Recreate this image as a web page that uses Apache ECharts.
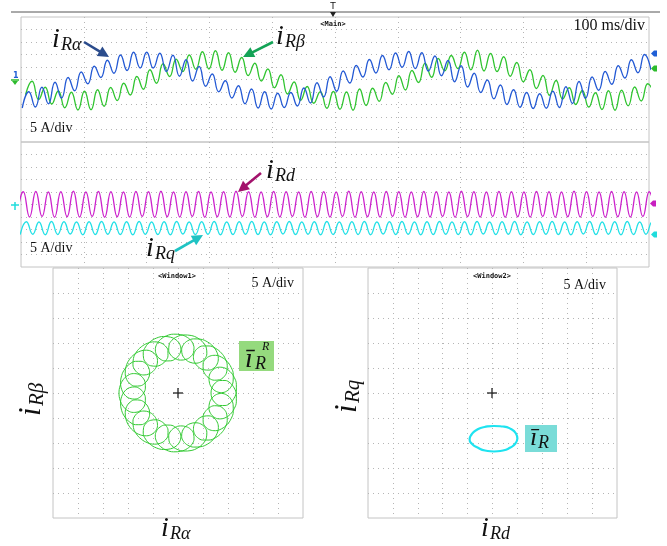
<!DOCTYPE html>
<html><head><meta charset="utf-8">
<script src="https://cdn.jsdelivr.net/npm/echarts@6/dist/echarts.min.js"></script>
<style>html,body{margin:0;padding:0;background:#fff}#c{width:667px;height:546px}</style>
</head><body><div id="c"></div>
<script>
// ---- time-domain traces: successive ripple extremes (A) ----
const timeBaseMs = [0, 1000];            // 100 ms/div, 10 divisions
const blueStartMs = 2.0,  blueStepMs = 10.43;
const greenStartMs = 7.2, greenStepMs = 10.43;
const dqStartMs = -6.3,   cyanStartMs = -1.3, dqStepMs = 9.965;

const iRalpha = [-11.0,-4.5,-10.6,-2.7,-9.3,-0.7,-7.0,1.2,-4.1,3.4,-1.3,5.7,1.2,8.1,2.9,10.2,4.0,11.3,5.0,11.3,
  5.0,10.9,3.6,10.1,1.7,8.3,-0.2,5.6,-2.3,2.6,-4.5,-0.1,-7.0,-2.1,-9.3,-3.4,-11.0,-4.5,-11.4,-5.1,
  -10.8,-4.8,-10.2,-3.0,-9.0,-0.9,-6.6,1.5,-4.3,3.8,-1.0,6.0,1.4,8.4,3.0,10.0,4.3,11.0,5.3,11.6,
  4.8,11.1,3.8,9.8,1.9,8.0,-0.5,5.9,-2.6,2.9,-4.8,0.2,-7.3,-1.8,-9.6,-3.7,-10.7,-4.8,-11.2,-5.3,
  -11.1,-4.3,-10.8,-2.5,-9.2,-0.4,-7.1,1.4,-3.9,3.6,-1.5,5.9,1.0,8.3,3.1,10.4,4.2];
const iRbeta = [-5.7,-0.3,-7.6,-2.7,-9.4,-4.2,-10.9,-4.7,-11.8,-4.3,-11.7,-3.7,-10.3,-2.8,-8.0,-1.1,-5.8,1.6,-3.5,4.3,
  -1.1,6.7,1.6,8.5,3.6,10.2,4.5,11.5,4.6,11.9,4.1,11.1,3.3,9.2,2.0,6.9,-0.2,4.6,-2.9,2.3,
  -5.4,-0.6,-7.9,-2.4,-9.1,-4.5,-11.1,-4.4,-11.5,-4.6,-11.9,-3.4,-10.0,-3.1,-8.3,-0.8,-5.5,1.9,-3.8,4.0,
  -0.8,6.9,1.3,8.8,3.9,10.0,4.8,11.3,4.3,12.1,3.8,10.8,3.6,9.5,1.7,7.2,-0.5,4.3,-3.2,2.0,
  -5.9,0.0,-7.4,-2.9,-9.6,-4.0,-10.6,-4.9,-11.6,-4.1,-11.9,-3.9,-10.1,-2.6,-8.2,-1.3,-5.6];
const iRd = [-4.9,5.1,-5.0,5.2,-4.8,5.0,-5.1,5.1,-4.9,5.3,-5.0,5.0,-4.8,5.2,-5.1,5.1,-4.9,5.0,-5.0,5.2,
  -4.8,5.1,-5.1,5.3,-4.9,5.0,-5.0,5.1,-4.8,5.2,-5.1,5.0,-4.9,5.1,-5.0,5.3,-4.8,5.1,-5.1,5.0,
  -4.9,5.2,-5.0,5.1,-4.8,5.0,-5.1,5.2,-4.9,5.1,-5.0,5.0,-4.8,5.3,-5.1,5.1,-4.9,5.0,-5.0,5.2,
  -4.8,5.1,-5.1,5.0,-4.9,5.2,-5.0,5.1,-4.8,5.0,-5.1,5.3,-4.9,5.1,-5.0,5.0,-4.8,5.2,-5.1,5.1,
  -4.9,5.0,-5.0,5.2,-4.8,5.1,-5.1,5.0,-4.9,5.3,-5.0,5.1,-4.8,5.0,-5.1,5.2,-4.9,5.1,-5.0,5.0,
  -4.8,5.1,-5.0];
const iRq = [-12.0,-6.9,-11.9,-7.0,-12.1,-6.8,-12.0,-6.9,-11.8,-7.0,-12.1,-6.9,-12.0,-6.8,-11.9,-7.0,-12.0,-6.9,-12.1,-6.8,
  -11.9,-7.0,-12.0,-6.9,-12.1,-6.8,-11.8,-7.0,-12.0,-6.9,-11.9,-6.8,-12.1,-7.0,-12.0,-6.9,-11.9,-6.8,-12.0,-7.0,
  -12.1,-6.9,-11.8,-6.8,-12.0,-7.0,-11.9,-6.9,-12.1,-6.8,-12.0,-7.0,-11.9,-6.9,-12.0,-6.8,-12.1,-7.0,-11.8,-6.9,
  -12.0,-6.8,-11.9,-7.0,-12.1,-6.9,-12.0,-6.8,-11.9,-7.0,-12.0,-6.9,-12.1,-6.8,-11.8,-7.0,-12.0,-6.9,-11.9,-6.8,
  -12.1,-7.0,-12.0,-6.9,-11.9,-6.8,-12.0,-7.0,-12.1,-6.9,-11.8,-6.8,-12.0,-7.0,-11.9,-6.9,-12.1,-6.8,-12.0,-7.0,
  -11.9,-6.9,-12.0];

// ---- XY window 1 (alpha-beta ring): one ripple loop read as radius (A) / angle (deg) ----
const loopStartAngles = [0,17.1,34.3,51.4,68.6,85.7,102.9,120,137.1,154.3,171.4,188.6,205.7,222.9,240,257.1,274.3,291.4,308.6,325.7,342.9];
const loopRadius = [9.74,8.72,7.70,6.91,6.6,6.91,7.70,8.72,9.74,10.62,11.27,11.67,11.8,11.67,11.27,10.62];
const loopAngle  = [19.2,20.9,19.2,13.4,4.3,-4.8,-10.7,-12.3,-10.6,-6.6,-0.9,5.8,12.9,19.9,26.6,32.3];

// ---- XY window 2 (d-q ellipse), A ----
const ellipseD = [5.0,4.7,3.7,2.1,0.3,-1.6,-3.2,-4.2,-4.6,-4.1,-3.0,-1.5,0.3,2.1,3.6,4.6];
const ellipseQ = [-9.1,-8.1,-7.2,-6.7,-6.6,-6.8,-7.4,-8.3,-9.3,-10.2,-10.9,-11.5,-11.7,-11.5,-10.9,-10.1];

const xyRange = [-25, 25];   // 5 A/div, 10 div
const labels = {alpha:'Rα', beta:'Rβ', d:'Rd', q:'Rq'};

// ---------- build ----------
function seq(t0, step, vals){ return vals.map((v,i)=>[t0+step*i, v]); }
const ringData = [];
loopStartAngles.forEach(a0 => loopRadius.forEach((r,s) => ringData.push([r, a0 + loopAngle[s]])));
ringData.push([loopRadius[0], 360 + loopAngle[0]]);
const ellipseData = ellipseD.map((d,i)=>[d, ellipseQ[i]]);
ellipseData.push([ellipseD[0], ellipseQ[0]]);

const dotLine = {show:true, showMinLine:false, showMaxLine:false, lineStyle:{color:'#b5b5b5', type:[1,4], width:1}};
const hid = {axisLine:{show:false}, axisTick:{show:false}, axisLabel:{show:false}};
function vx(grid, min, max, interval){ return Object.assign({type:'value', gridIndex:grid, min:min, max:max, interval:interval, splitLine:dotLine}, hid); }
function vy(grid, min, max, interval, split){ return Object.assign({type:'value', gridIndex:grid, min:min, max:max, interval:interval, splitLine: split?dotLine:{show:false}}, hid); }

const SERIF = '"Liberation Serif", "Times New Roman", serif';
const g = [];
function txt(x, y, s, size, opt){ opt=opt||{}; g.push({type:'text', x:x, y:y, rotation:opt.rot||0, z:50, style:{text:s, font:(opt.style||'')+' '+size+'px '+(opt.family||SERIF), fill:opt.fill||'#111', align:opt.align||'left', verticalAlign:opt.va||'middle'}}); }
function isub(bx, by, sub){
  txt(bx, by - 28*0.3, 'i', 28, {style:'italic'});
  txt(bx + 9, by + 3 - 18*0.3, sub, 18, {style:'italic'});
}
function arrow(x1,y1,x2,y2,color){
  const dx=x2-x1, dy=y2-y1, L=Math.hypot(dx,dy), ux=dx/L, uy=dy/L, nx=-uy, ny=ux, hl=11, hw=5.5;
  g.push({type:'line', z:40, shape:{x1:x1,y1:y1,x2:x2-ux*hl*0.7,y2:y2-uy*hl*0.7}, style:{stroke:color, lineWidth:2.6}});
  g.push({type:'polygon', z:40, shape:{points:[[x2,y2],[x2-ux*hl+nx*hw, y2-uy*hl+ny*hw],[x2-ux*hl-nx*hw, y2-uy*hl-ny*hw]]}, style:{fill:color}});
}
function tag(x,y,color){ g.push({type:'polygon', z:40, shape:{points:[[x,y],[x+3,y-3],[x+6,y-3],[x+6,y+3],[x+3,y+3]]}, style:{fill:color}}); }

// top frame line and trigger mark
g.push({type:'line', shape:{x1:11,y1:12,x2:660,y2:12}, style:{stroke:'#555', lineWidth:1}});
txt(333, 7, 'T', 9, {align:'center', family:'"DejaVu Sans", sans-serif'});
g.push({type:'polygon', shape:{points:[[330,12],[336,12],[333,17]]}, style:{fill:'#222'}});
txt(333, 24.5, '<Main>', 7, {align:'center', style:'bold', family:'"DejaVu Sans Mono", monospace'});
txt(645, 26, '100 ms/div', 16, {align:'right'});
txt(30, 128, '5 A/div', 14);
txt(30, 248, '5 A/div', 14);
// channel markers
tag(651, 53.5, '#1f5fd6'); tag(651, 68.5, '#2dbb2d'); tag(650, 203.5, '#c81fc0'); tag(651, 234.5, '#1fdcdc');
txt(13, 76, '1', 8, {fill:'#1f5fd6', family:'"DejaVu Sans", sans-serif', style:'bold'});
g.push({type:'line', shape:{x1:11,y1:80,x2:19,y2:80}, style:{stroke:'#2dbb2d', lineWidth:1.5}});
g.push({type:'polygon', shape:{points:[[12,81],[18,81],[15,85]]}, style:{fill:'#2dbb2d'}});
g.push({type:'line', shape:{x1:11,y1:205,x2:19,y2:205}, style:{stroke:'#1fdcdc', lineWidth:1.5}});
g.push({type:'line', shape:{x1:15,y1:202,x2:15,y2:210}, style:{stroke:'#1fdcdc', lineWidth:1.5}});

// trace labels
isub(52, 48, labels.alpha); arrow(84,42,109,57,'#2b4c8c');
isub(276, 45, labels.beta); arrow(273,42,243,57,'#14a356');
isub(266, 179, labels.d); arrow(261,173,238,192,'#a3126c');
isub(146, 257, labels.q); arrow(175,251,203,235,'#1fc3c3');

// XY window decorations
txt(177, 276, '<Window1>', 7, {align:'center', style:'bold', family:'"DejaVu Sans Mono", monospace'});
txt(492, 276, '<Window2>', 7, {align:'center', style:'bold', family:'"DejaVu Sans Mono", monospace'});
txt(294, 283, '5 A/div', 14, {align:'right'});
txt(606, 285, '5 A/div', 14, {align:'right'});
[[178,393],[492,393]].forEach(c=>{
  g.push({type:'line', z:45, shape:{x1:c[0]-5,y1:c[1],x2:c[0]+5,y2:c[1]}, style:{stroke:'#222', lineWidth:1.3}});
  g.push({type:'line', z:45, shape:{x1:c[0],y1:c[1]-5,x2:c[0],y2:c[1]+5}, style:{stroke:'#222', lineWidth:1.3}});
});
g.push({type:'rect', z:30, shape:{x:239,y:341,width:35,height:30}, style:{fill:'#95da7e'}});
txt(245, 360, 'ī', 28, {style:'italic'});
txt(255, 364, 'R', 18, {style:'italic'});
txt(262, 347, 'R', 12, {style:'italic'});
g.push({type:'rect', z:30, shape:{x:525,y:425,width:32,height:27}, style:{fill:'#7adcd8'}});
txt(530, 438, 'ī', 26, {style:'italic'});
txt(538, 443, 'R', 18, {style:'italic'});
isub(161, 537, labels.alpha);
isub(481, 537, labels.d);
// rotated axis labels
function vsub(bx, by, sub){
  g.push({type:'group', x:bx, y:by, rotation:Math.PI/2, z:50, children:[
    {type:'text', x:0, y:-31*0.3, style:{text:'i', font:'italic 31px '+SERIF, fill:'#111', verticalAlign:'middle'}},
    {type:'text', x:10, y:3-21*0.3, style:{text:sub, font:'italic 21px '+SERIF, fill:'#111', verticalAlign:'middle'}}
  ]});
}
vsub(41, 416, labels.beta);
vsub(357, 413, labels.q);

const option = {
  animation:false,
  backgroundColor:'#fff',
  grid:[
    {left:21, top:17, width:628, height:125, show:true, borderColor:'#c4c4c4', borderWidth:1},
    {left:21, top:142, width:628, height:125, show:true, borderColor:'#c4c4c4', borderWidth:1},
    {left:53, top:268, width:250, height:250, show:true, borderColor:'#c4c4c4', borderWidth:1},
    {left:368, top:268, width:249, height:250, show:true, borderColor:'#c4c4c4', borderWidth:1}
  ],
  xAxis:[ vx(0, timeBaseMs[0], timeBaseMs[1], 100), vx(1, timeBaseMs[0], timeBaseMs[1], 100),
          vx(2, xyRange[0], xyRange[1], 5), vx(3, xyRange[0], xyRange[1], 5) ],
  yAxis:[ vy(0, -24.6, 25.4, null, false), vy(0, 0, 10, 1, true), vy(1, -25, 25, 5, true),
          vy(2, xyRange[0], xyRange[1], 5, true), vy(3, xyRange[0], xyRange[1], 5, true) ],
  polar:{center:[178,393], radius:125},
  angleAxis:Object.assign({type:'value', min:0, max:360, startAngle:90, splitLine:{show:false}}, hid),
  radiusAxis:Object.assign({type:'value', min:0, max:xyRange[1], splitLine:{show:false}}, hid),
  series:[
    {name:'iRβ', type:'line', xAxisIndex:0, yAxisIndex:0, data:seq(greenStartMs, greenStepMs, iRbeta), smooth:0.5, symbol:'none', lineStyle:{color:'#2fc42f', width:1.3}},
    {name:'iRα', type:'line', xAxisIndex:0, yAxisIndex:0, data:seq(blueStartMs, blueStepMs, iRalpha), smooth:0.5, symbol:'none', lineStyle:{color:'#2359d4', width:1.3}},
    {name:'iRd', type:'line', xAxisIndex:1, yAxisIndex:2, data:seq(dqStartMs, dqStepMs, iRd), smooth:0.5, symbol:'none', lineStyle:{color:'#cc22cc', width:1.3}},
    {name:'iRq', type:'line', xAxisIndex:1, yAxisIndex:2, data:seq(cyanStartMs, dqStepMs, iRq), smooth:0.5, symbol:'none', lineStyle:{color:'#22e0e6', width:1.3}},
    {name:'ring', type:'line', coordinateSystem:'polar', data:ringData, smooth:0.4, symbol:'none', lineStyle:{color:'#33c933', width:1}},
    {name:'ellipse', type:'line', xAxisIndex:3, yAxisIndex:4, data:ellipseData, smooth:0.6, symbol:'none', lineStyle:{color:'#1ee3f0', width:2.2}}
  ],
  graphic:g
};
const chart = echarts.init(document.getElementById('c'));
chart.setOption(option);
</script></body></html>
